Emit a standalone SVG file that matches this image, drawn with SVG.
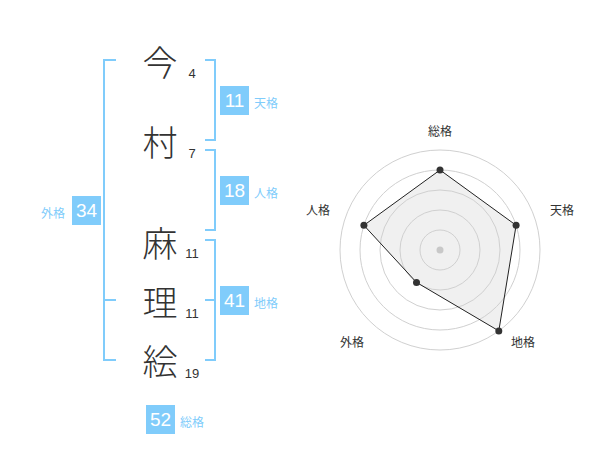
<svg xmlns="http://www.w3.org/2000/svg" width="600" height="470" viewBox="0 0 600 470">
<style>
.ch{font-family:"Noto Sans CJK JP","Noto Sans",sans-serif;font-size:35px;font-weight:300;fill:#333;text-anchor:middle;dominant-baseline:central}
.num{font-family:"Liberation Sans",Arial,sans-serif;font-size:13px;fill:#333;text-anchor:middle;dominant-baseline:central}
.br{fill:none;stroke:#80ccfb;stroke-width:2}
.box{fill:#80ccfb}
.bt{font-family:"Liberation Sans",Arial,sans-serif;font-size:19px;fill:#fff;text-anchor:middle;dominant-baseline:central}
.lb{font-family:"Noto Sans CJK JP","Noto Sans",sans-serif;font-size:12px;fill:#80ccfb;dominant-baseline:central}
.ring{fill:none;stroke:#d0d0d0;stroke-width:1}
.rl{font-family:"Noto Sans CJK JP","Noto Sans",sans-serif;font-size:12px;fill:#333;text-anchor:middle;dominant-baseline:central}
.dot{fill:#333}
</style>
<rect width="600" height="470" fill="#fff"/>
<g id="names">
<g id="c1"><text class="ch" x="160" y="60">今</text><text class="num" x="192" y="73">4</text></g>
<g id="c2"><text class="ch" x="160" y="140">村</text><text class="num" x="192" y="153">7</text></g>
<g id="c3"><text class="ch" x="160" y="241">麻</text><text class="num" x="192" y="253">11</text></g>
<g id="c4"><text class="ch" x="160" y="300">理</text><text class="num" x="192" y="313">11</text></g>
<g id="c5"><text class="ch" x="160" y="359">絵</text><text class="num" x="192" y="373">19</text></g>
</g>
<g id="connectors">
<path class="br" d="M205,60H215V140H205"/>
<path class="br" d="M205,150H215V230H205"/>
<path class="br" d="M205,240H215V360H205M205,300H215"/>
<path class="br" d="M116,60H104V360H116M104,300H116"/>
</g>
<g id="tenkaku"><rect class="box" x="220" y="86" width="29" height="29"/><text class="bt" x="234.5" y="100.5">11</text><text class="lb" x="254" y="102">天格</text></g>
<g id="jinkaku"><rect class="box" x="220" y="176" width="29" height="29"/><text class="bt" x="234.5" y="190.5">18</text><text class="lb" x="254" y="192">人格</text></g>
<g id="chikaku"><rect class="box" x="220" y="286" width="29" height="29"/><text class="bt" x="234.5" y="300.5">41</text><text class="lb" x="254" y="302">地格</text></g>
<g id="gaikaku"><rect class="box" x="72" y="196" width="29" height="29"/><text class="bt" x="86.5" y="210.5">34</text><text class="lb" x="41" y="212">外格</text></g>
<g id="soukaku"><rect class="box" x="146" y="405" width="29" height="29"/><text class="bt" x="160.5" y="419.5">52</text><text class="lb" x="180" y="421">総格</text></g>
<g id="radar">
<polygon points="440,170 516.1,225.3 498.8,330.9 416.5,282.4 363.9,225.3" fill="#f0f0f0"/>
<circle class="ring" cx="440" cy="250" r="20"/>
<circle class="ring" cx="440" cy="250" r="40"/>
<circle class="ring" cx="440" cy="250" r="60"/>
<circle class="ring" cx="440" cy="250" r="80"/>
<circle class="ring" cx="440" cy="250" r="100"/>
<circle cx="440" cy="250" r="3.5" fill="#c8c8c8"/>
<polygon points="440,170 516.1,225.3 498.8,330.9 416.5,282.4 363.9,225.3" fill="none" stroke="#222" stroke-width="1"/>
<circle class="dot" cx="440" cy="170" r="3.5"/>
<circle class="dot" cx="516.1" cy="225.3" r="3.5"/>
<circle class="dot" cx="498.8" cy="330.9" r="3.5"/>
<circle class="dot" cx="416.5" cy="282.4" r="3.5"/>
<circle class="dot" cx="363.9" cy="225.3" r="3.5"/>
<text class="rl" x="440" y="130">総格</text>
<text class="rl" x="562" y="209">天格</text>
<text class="rl" x="523" y="341">地格</text>
<text class="rl" x="352" y="341">外格</text>
<text class="rl" x="318" y="209">人格</text>
</g>
</svg>
